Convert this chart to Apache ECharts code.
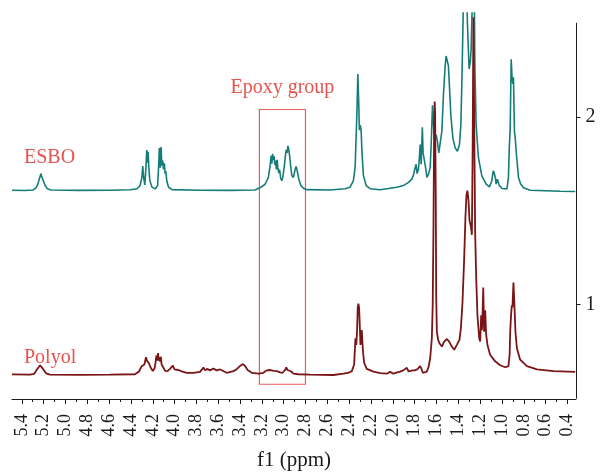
<!DOCTYPE html>
<html>
<head>
<meta charset="utf-8">
<script src="https://cdn.jsdelivr.net/npm/echarts@6/dist/echarts.min.js"></script>
<style>
  html, body { margin: 0; padding: 0; background: #fff; }
  #chart { width: 602px; height: 476px; }
</style>
</head>
<body>
<div id="chart"></div>
<script>
// 1H NMR spectra (f1, ppm) of epoxidized soybean oil (ESBO) and the derived polyol,
// stacked with vertical offsets on a common intensity scale.

const esboShift = [
  5.490, 5.371, 5.297, 5.270, 5.252, 5.240, 5.231, 5.224, 5.217, 5.208, 5.197, 5.186, 5.166, 5.132,
  4.867, 4.592, 4.408, 4.344, 4.317, 4.300, 4.292, 4.284, 4.273, 4.263, 4.255, 4.250, 4.243, 4.236,
  4.227, 4.209, 4.179, 4.156, 4.146, 4.140, 4.132, 4.124, 4.117, 4.109, 4.102, 4.094, 4.087, 4.081,
  4.071, 4.055, 4.023, 3.767, 3.492, 3.263, 3.217, 3.171, 3.141, 3.125, 3.116, 3.109, 3.102, 3.095,
  3.088, 3.082, 3.075, 3.068, 3.061, 3.054, 3.045, 3.038, 3.029, 3.018, 3.009, 2.994, 2.985, 2.977,
  2.969, 2.962, 2.955, 2.946, 2.937, 2.926, 2.911, 2.896, 2.887, 2.878, 2.862, 2.844, 2.820, 2.786,
  2.575, 2.438, 2.392, 2.362, 2.346, 2.337, 2.329, 2.321, 2.314, 2.307, 2.299, 2.291, 2.282, 2.270,
  2.245, 2.208, 2.117, 1.964, 1.903, 1.857, 1.826, 1.810, 1.796, 1.787, 1.778, 1.766, 1.757, 1.750,
  1.741, 1.730, 1.723, 1.711, 1.700, 1.688, 1.672, 1.658, 1.647, 1.637, 1.631, 1.624, 1.613, 1.603,
  1.592, 1.579, 1.567, 1.551, 1.537, 1.521, 1.512, 1.505, 1.500, 1.491, 1.482, 1.469, 1.450, 1.429,
  1.408, 1.390, 1.377, 1.368, 1.359, 1.349, 1.338, 1.323, 1.312, 1.301, 1.290, 1.283, 1.274, 1.263,
  1.253, 1.249, 1.237, 1.216, 1.185, 1.145, 1.115, 1.093, 1.085, 1.078, 1.069, 1.061, 1.054, 1.042,
  1.026, 0.999, 0.955, 0.941, 0.934, 0.925, 0.916, 0.907, 0.900, 0.895, 0.886, 0.879, 0.870, 0.849,
  0.829, 0.803, 0.742, 0.604, 0.467, 0.329
];
const esboSignal = [
  1.595, 1.593, 1.596, 1.608, 1.629, 1.655, 1.645, 1.685, 1.667, 1.664, 1.637, 1.619, 1.603, 1.596,
  1.594, 1.595, 1.597, 1.603, 1.619, 1.664, 1.726, 1.664, 1.624, 1.717, 1.812, 1.744, 1.803, 1.717,
  1.648, 1.613, 1.602, 1.619, 1.728, 1.824, 1.717, 1.829, 1.728, 1.755, 1.707, 1.741, 1.685, 1.699,
  1.643, 1.611, 1.598, 1.595, 1.594, 1.596, 1.608, 1.627, 1.664, 1.728, 1.781, 1.739, 1.792, 1.760,
  1.779, 1.733, 1.755, 1.707, 1.760, 1.717, 1.688, 1.707, 1.664, 1.646, 1.664, 1.728, 1.781, 1.813,
  1.797, 1.835, 1.819, 1.781, 1.728, 1.675, 1.664, 1.707, 1.723, 1.704, 1.656, 1.621, 1.605, 1.598,
  1.596, 1.603, 1.611, 1.646, 1.717, 1.877, 2.027, 2.224, 2.091, 1.920, 1.947, 1.920, 1.787, 1.675,
  1.620, 1.603, 1.597, 1.611, 1.620, 1.637, 1.655, 1.680, 1.717, 1.735, 1.685, 1.707, 1.771, 1.842,
  1.735, 1.936, 1.797, 1.806, 1.717, 1.664, 1.685, 1.717, 1.877, 2.055, 1.995, 1.909, 1.877, 1.895,
  1.860, 1.797, 1.788, 1.915, 2.108, 2.268, 2.322, 2.304, 2.295, 2.268, 2.162, 2.002, 1.877, 1.824,
  1.806, 1.842, 1.948, 2.180, 2.446, 2.800, 2.750, 2.624, 2.411, 2.251, 2.293, 2.357, 2.571, 2.720,
  2.597, 2.268, 1.948, 1.771, 1.673, 1.628, 1.613, 1.646, 1.685, 1.700, 1.708, 1.664, 1.628, 1.655,
  1.621, 1.604, 1.602, 1.664, 1.815, 1.931, 2.304, 2.197, 2.171, 2.206, 1.913, 1.877, 1.806, 1.664,
  1.629, 1.608, 1.595, 1.592, 1.589, 1.588
];

const polyolShift = [
  5.490, 5.325, 5.288, 5.261, 5.233, 5.206, 5.178, 5.142, 4.867, 4.592, 4.363, 4.326, 4.301, 4.289,
  4.277, 4.268, 4.262, 4.254, 4.246, 4.234, 4.222, 4.200, 4.184, 4.175, 4.167, 4.161, 4.152, 4.146,
  4.140, 4.133, 4.126, 4.119, 4.103, 4.087, 4.065, 4.042, 4.017, 4.000, 3.966, 3.934, 3.889, 3.828,
  3.767, 3.736, 3.721, 3.702, 3.675, 3.645, 3.615, 3.583, 3.522, 3.461, 3.428, 3.400, 3.375, 3.354,
  3.331, 3.290, 3.232, 3.186, 3.157, 3.141, 3.125, 3.109, 3.088, 3.064, 3.033, 3.010, 2.988, 2.977,
  2.965, 2.951, 2.932, 2.911, 2.868, 2.758, 2.545, 2.453, 2.410, 2.376, 2.355, 2.343, 2.335, 2.328,
  2.322, 2.316, 2.310, 2.306, 2.297, 2.292, 2.285, 2.279, 2.273, 2.263, 2.239, 2.178, 2.117, 2.055,
  2.025, 2.009, 1.995, 1.961, 1.933, 1.906, 1.872, 1.856, 1.842, 1.819, 1.796, 1.773, 1.750, 1.736,
  1.725, 1.709, 1.689, 1.672, 1.658, 1.643, 1.635, 1.628, 1.622, 1.617, 1.613, 1.607, 1.603, 1.597,
  1.585, 1.573, 1.551, 1.530, 1.505, 1.484, 1.460, 1.438, 1.414, 1.390, 1.377, 1.362, 1.347, 1.335,
  1.326, 1.317, 1.307, 1.298, 1.285, 1.276, 1.269, 1.262, 1.255, 1.246, 1.237, 1.225, 1.209, 1.200,
  1.191, 1.185, 1.182, 1.176, 1.172, 1.167, 1.164, 1.158, 1.154, 1.149, 1.145, 1.133, 1.109, 1.063,
  1.017, 0.971, 0.941, 0.930, 0.925, 0.916, 0.910, 0.904, 0.900, 0.895, 0.890, 0.886, 0.877, 0.864,
  0.834, 0.772, 0.680, 0.528, 0.329
];
const polyolSignal = [
  0.597, 0.596, 0.600, 0.624, 0.647, 0.627, 0.603, 0.596, 0.595, 0.596, 0.598, 0.613, 0.642, 0.632,
  0.651, 0.661, 0.690, 0.672, 0.677, 0.656, 0.637, 0.616, 0.629, 0.661, 0.699, 0.672, 0.713, 0.672,
  0.691, 0.667, 0.693, 0.651, 0.642, 0.616, 0.615, 0.627, 0.645, 0.624, 0.621, 0.614, 0.606, 0.606,
  0.611, 0.635, 0.619, 0.627, 0.619, 0.629, 0.619, 0.624, 0.606, 0.615, 0.627, 0.643, 0.653, 0.643,
  0.621, 0.605, 0.601, 0.606, 0.619, 0.629, 0.621, 0.628, 0.616, 0.615, 0.608, 0.606, 0.621, 0.635,
  0.621, 0.611, 0.613, 0.601, 0.598, 0.596, 0.594, 0.601, 0.605, 0.615, 0.651, 0.793, 0.757, 0.837,
  0.960, 0.980, 0.960, 0.907, 0.757, 0.784, 0.837, 0.768, 0.715, 0.659, 0.627, 0.612, 0.604, 0.601,
  0.611, 0.614, 0.601, 0.608, 0.612, 0.619, 0.633, 0.613, 0.606, 0.619, 0.619, 0.627, 0.642, 0.624,
  0.606, 0.616, 0.612, 0.640, 0.686, 0.793, 0.971, 1.397, 1.931, 2.075, 2.011, 1.557, 1.024, 0.828,
  0.784, 0.766, 0.748, 0.775, 0.789, 0.775, 0.748, 0.731, 0.757, 0.784, 0.846, 0.988, 1.220, 1.451,
  1.566, 1.593, 1.540, 1.433, 1.397, 1.353, 1.824, 2.532, 1.984, 1.362, 1.131, 0.917, 0.793, 0.775,
  0.917, 0.837, 0.864, 0.971, 1.068, 0.917, 0.828, 0.891, 0.944, 0.864, 0.811, 0.757, 0.704, 0.668,
  0.647, 0.636, 0.642, 0.704, 0.828, 0.928, 0.971, 0.960, 1.024, 1.095, 1.024, 0.971, 0.828, 0.740,
  0.677, 0.642, 0.624, 0.615, 0.611
];

const majorTicks = [5.4, 5.2, 5.0, 4.8, 4.6, 4.4, 4.2, 4.0, 3.8, 3.6, 3.4, 3.2, 3.0, 2.8, 2.6,
  2.4, 2.2, 2.0, 1.8, 1.6, 1.4, 1.2, 1.0, 0.8, 0.6, 0.4];
const minorTicks = [5.3, 5.1, 4.9, 4.7, 4.5, 4.3, 4.1, 3.9, 3.7, 3.5, 3.3, 3.1, 2.9, 2.7, 2.5,
  2.3, 2.1, 1.9, 1.7, 1.5, 1.3, 1.1, 0.9, 0.7, 0.5];
const intensityTicks = [1, 2];

// epoxy (oxirane CH) region highlighted on both traces
const epoxyBox = { from: [3.223, 2.032], to: [2.801, 0.544], label: 'Epoxy group' };
const traceNames = ['ESBO', 'Polyol'];

const SERIF = '"Liberation Serif", "DejaVu Serif", serif';
const TEAL = '#147d79';
const MAROON = '#7a1515';
const LABEL_RED = '#e8524d';
const INK = '#1a1a1a';

const zip = (xs, ys) => xs.map((x, i) => [x, ys[i]]);

const ppmRange = { min: 0.322, max: 5.49 };

const chart = echarts.init(document.getElementById('chart'), null, { renderer: 'canvas' });

chart.setOption({
  animation: false,
  backgroundColor: '#ffffff',
  grid: [
    { left: 12, right: 26, top: 13, bottom: 71 },
    { left: 12, right: 25.5, top: 23.25, bottom: 77.75 }
  ],
  xAxis: [
    {
      type: 'value', gridIndex: 0, inverse: true, position: 'bottom',
      min: ppmRange.min, max: ppmRange.max,
      name: 'f1 (ppm)', nameLocation: 'middle', nameGap: 51,
      nameTextStyle: { fontFamily: SERIF, fontSize: 21, color: INK },
      axisLine: { show: true, onZero: false, lineStyle: { color: INK, width: 1 } },
      axisTick: { show: true, length: 5, customValues: majorTicks, lineStyle: { color: INK } },
      axisLabel: {
        show: true, rotate: 90, margin: 15, customValues: majorTicks,
        fontFamily: SERIF, fontSize: 18, color: INK,
        formatter: v => v.toFixed(1)
      },
      splitLine: { show: false }
    },
    {
      type: 'value', gridIndex: 0, inverse: true, position: 'bottom',
      min: ppmRange.min, max: ppmRange.max,
      axisLine: { show: false, onZero: false },
      axisTick: { show: true, length: 3, customValues: minorTicks, lineStyle: { color: INK } },
      axisLabel: { show: false },
      splitLine: { show: false }
    },
    {
      type: 'value', gridIndex: 1, show: false, min: 0, max: 1
    }
  ],
  yAxis: [
    {
      type: 'value', gridIndex: 0, show: false,
      min: 0.464, max: 2.5547,
      splitLine: { show: false }
    },
    {
      type: 'value', gridIndex: 1, position: 'right',
      min: 0.5, max: 2.5,
      axisLine: { show: true, onZero: false, lineStyle: { color: INK, width: 1 } },
      axisTick: { show: true, length: 4, customValues: intensityTicks, lineStyle: { color: INK } },
      axisLabel: {
        show: true, margin: 9, customValues: intensityTicks,
        fontFamily: SERIF, fontSize: 20, color: INK
      },
      splitLine: { show: false }
    }
  ],
  series: [
    {
      name: traceNames[0], type: 'line', xAxisIndex: 0, yAxisIndex: 0,
      data: zip(esboShift, esboSignal),
      showSymbol: false, symbol: 'none', smooth: false, clip: true,
      lineStyle: { color: TEAL, width: 1.6 },
      markArea: {
        silent: true,
        itemStyle: { color: 'rgba(0,0,0,0)', borderColor: '#e85f5a', borderWidth: 1.2 },
        label: {
          show: true, position: 'top', distance: 11,
          fontFamily: SERIF, fontSize: 20, color: LABEL_RED
        },
        data: [[
          { name: epoxyBox.label, coord: epoxyBox.from },
          { coord: epoxyBox.to }
        ]]
      },
      z: 2
    },
    {
      name: traceNames[1], type: 'line', xAxisIndex: 0, yAxisIndex: 0,
      data: zip(polyolShift, polyolSignal),
      showSymbol: false, symbol: 'none', smooth: false, clip: true,
      lineStyle: { color: MAROON, width: 1.8 },
      z: 3
    }
  ],
  graphic: [
    {
      type: 'text', left: 24, top: 148,
      style: { text: traceNames[0], fontFamily: SERIF, fontSize: 20, fill: LABEL_RED }
    },
    {
      type: 'text', left: 24, top: 348,
      style: { text: traceNames[1], fontFamily: SERIF, fontSize: 20, fill: LABEL_RED }
    }
  ]
});
</script>
</body>
</html>
